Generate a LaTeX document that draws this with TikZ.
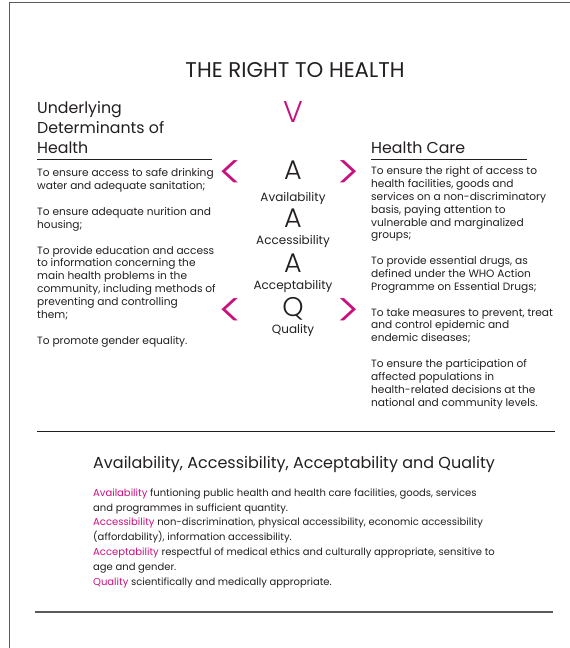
\documentclass[tikz,border=0pt]{standalone}
\usepackage{fontspec}
\setmainfont{Poppins}
\newfontfamily\chevfont{Poppins Light}
\usepackage{xcolor}
\definecolor{aaqpink}{RGB}{200,16,126}
\definecolor{inkgray}{RGB}{35,31,32}
\definecolor{framegray}{RGB}{90,90,90}
\newcommand{\aaqterm}[1]{\textcolor{aaqpink}{#1}}

\begin{document}
\begin{tikzpicture}[x=1pt,y=-1pt,text=inkgray,
    heading/.style={anchor=base west,inner sep=0pt,align=left,font=\fontsize{15.8}{20}\selectfont},
    bodytext/.style={anchor=base west,inner sep=0pt,align=left,font=\fontsize{10.6}{12.85}\selectfont},
    bigletter/.style={anchor=base,inner sep=0pt,font=\chevfont\fontsize{27}{27}\selectfont},
    chevron/.style={anchor=base,inner sep=0pt,text=aaqpink,font=\chevfont\fontsize{48}{48}\selectfont},
    aaqlabel/.style={anchor=base,inner sep=0pt,font=\fontsize{12}{12}\selectfont},
    rulerline/.style={line width=0.8pt,draw=inkgray}]
  \useasboundingbox (0,0) rectangle (570,648);
  % page frame
  \draw[framegray,line width=1.5pt] (9.5,648) -- (9.5,2.5) -- (570,2.5);

  \node[anchor=base,inner sep=0pt,font=\fontsize{21.3}{24}\selectfont] (title) at (295,77) {THE RIGHT TO HEALTH};
  \node[chevron,font=\chevfont\fontsize{30}{30}\selectfont] (top) at (293,122) {V};

  % left column
  \node[heading] (udh) at (37,153) {Underlying\\Determinants of\\Health};
  \draw[rulerline] (37,159) -- (212,159);
  \node[bodytext] (udhtext) at (37,344) {To ensure access to safe drinking\\water and adequate sanitation;\\[12.85pt]
    To ensure adequate nurition and\\housing;\\[12.85pt]
    To provide education and access\\to information concerning the\\main health problems in the\\community, including methods of\\preventing and controlling\\them;\\[12.85pt]
    To promote gender equality.};

  % right column
  \node[heading] (care) at (371,153) {Health Care};
  \draw[rulerline] (371,159) -- (527,159);
  \node[bodytext] (caretext) at (371,406) {To ensure the right of access to\\health facilities, goods and\\services on a non-discriminatory\\basis, paying attention to\\vulnerable and marginalized\\groups;\\[12.85pt]
    To provide essential drugs, as\\defined under the WHO Action\\Programme on Essential Drugs;\\[12.85pt]
    To take measures to prevent, treat\\and control epidemic and\\endemic diseases;\\[12.85pt]
    To ensure the participation of\\affected populations in\\health-related decisions at the\\national and community levels.};

  % AAAQ column
  \node[chevron] (lt1) at (231,189) {<};
  \node[bigletter] (a1) at (293,179) {A};
  \node[chevron] (gt1) at (348,189) {>};
  \node[aaqlabel] (avail) at (293,201) {Availability};
  \node[bigletter] (a2) at (293,227) {A};
  \node[aaqlabel] (access) at (293,244) {Accessibility};
  \node[bigletter] (a3) at (293,272) {A};
  \node[aaqlabel] (accept) at (293,289) {Acceptability};
  \node[chevron] (lt2) at (231,327) {<};
  \node[bigletter] (q) at (293,316) {Q};
  \node[chevron] (gt2) at (348,327) {>};
  \node[aaqlabel] (qual) at (293,333) {Quality};

  \draw[rulerline] (37,431) -- (555,431);

  % definitions
  \node[anchor=base west,inner sep=0pt,font=\fontsize{16}{20}\selectfont] (aaq) at (93,468) {Availability, Accessibility, Acceptability and Quality};
  \node[anchor=base west,inner sep=0pt,align=left,font=\fontsize{10}{14.8}\selectfont] (defs) at (93,585) {\aaqterm{Availability} funtioning public health and health care facilities, goods, services\\
    and programmes in sufficient quantity.\\
    \aaqterm{Accessibility} non-discrimination, physical accessibility, economic accessibility\\
    (affordability), information accessibility.\\
    \aaqterm{Acceptability} respectful of medical ethics and culturally appropriate, sensitive to\\
    age and gender.\\
    \aaqterm{Quality} scientifically and medically appropriate.};

  \draw[rulerline,draw=framegray,line width=1.2pt] (35,612) -- (553,612);
\end{tikzpicture}
\end{document}
